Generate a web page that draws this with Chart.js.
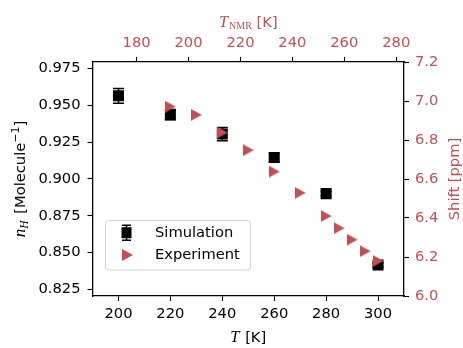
<!DOCTYPE html>
<html>
<head>
<meta charset="utf-8">
<script src="https://cdn.jsdelivr.net/npm/chart.js@4/dist/chart.umd.min.js"></script>
<style>
html,body{margin:0;padding:0;background:#fff;}
#c{display:block;}
</style>
</head>
<body>
<canvas id="c" width="463" height="348"></canvas>
<script>
// ---- data ----
const simT = [200, 220, 240, 260, 280, 300];
const simN = [0.9565, 0.9437, 0.9305, 0.9145, 0.8900, 0.8415];
const simErr = [0.0050, 0.0035, 0.0045, 0.0030, 0.0015, 0.0015];
const expT = [193, 203, 213, 223, 233, 243, 253, 258, 263, 268, 273];
const expShift = [6.971, 6.929, 6.838, 6.748, 6.638, 6.529, 6.410, 6.348, 6.289, 6.230, 6.180];
const xTicks = [200, 220, 240, 260, 280, 300];
const xTickLabels = ['200', '220', '240', '260', '280', '300'];
const x2Ticks = [180, 200, 220, 240, 260, 280];
const x2TickLabels = ['180', '200', '220', '240', '260', '280'];
const yTicks = [0.825, 0.850, 0.875, 0.900, 0.925, 0.950, 0.975];
const yTickLabels = ['0.825', '0.850', '0.875', '0.900', '0.925', '0.950', '0.975'];
const y2Ticks = [6.0, 6.2, 6.4, 6.6, 6.8, 7.0, 7.2];
const y2TickLabels = ['6.0', '6.2', '6.4', '6.6', '6.8', '7.0', '7.2'];

const RED = '#c44e52';
const FS = 14.7;
const SANS = 'DejaVu Sans';
const SERIF = 'Liberation Serif';

Chart.defaults.font.family = SANS;
Chart.defaults.font.size = FS;
Chart.defaults.color = '#000';

// triangle marker (pointing right)
const tri = document.createElement('canvas');
tri.width = 11; tri.height = 12;
(function(){
  const t = tri.getContext('2d');
  t.fillStyle = RED;
  t.beginPath(); t.moveTo(0,0); t.lineTo(11,6); t.lineTo(0,12); t.closePath(); t.fill();
})();

function setTicks(vals){
  return function(scale){ scale.ticks = vals.map(v => ({value: v})); };
}

const errorBars = {
  id: 'errorBars',
  beforeDatasetsDraw(chart){
    const ctx = chart.ctx, xs = chart.scales.x, ys = chart.scales.y;
    ctx.save();
    ctx.strokeStyle = '#000'; ctx.lineWidth = 1.5;
    for (let i = 0; i < simT.length; i++){
      const px = xs.getPixelForValue(simT[i]);
      const p1 = ys.getPixelForValue(simN[i] + simErr[i]);
      const p2 = ys.getPixelForValue(simN[i] - simErr[i]);
      ctx.beginPath();
      ctx.moveTo(px, p1); ctx.lineTo(px, p2);
      ctx.moveTo(px - 5.5, p1); ctx.lineTo(px + 5.5, p1);
      ctx.moveTo(px - 5.5, p2); ctx.lineTo(px + 5.5, p2);
      ctx.stroke();
    }
    ctx.restore();
  }
};

function drawRich(ctx, segs, cx, cy, rot){
  ctx.save();
  ctx.translate(cx, cy);
  ctx.rotate(rot);
  ctx.textBaseline = 'alphabetic';
  ctx.textAlign = 'left';
  let total = 0;
  segs.forEach(s => { ctx.font = s.font; s.w = ctx.measureText(s.text).width + (s.gap || 0); total += s.w; });
  let x = -total / 2;
  segs.forEach(s => {
    ctx.font = s.font; ctx.fillStyle = s.color;
    ctx.fillText(s.text, x, s.dy || 0);
    x += s.w;
  });
  ctx.restore();
}

const titles = {
  id: 'titles',
  afterDraw(chart){
    const ctx = chart.ctx;
    const ca = chart.chartArea;
    const cx = (ca.left + ca.right) / 2;
    const cy = (ca.top + ca.bottom) / 2;
    // top title
    drawRich(ctx, [
      {text: 'T', font: 'italic 16.5px ' + SERIF, color: RED, gap: 1},
      {text: 'NMR', font: '10px ' + SERIF, color: RED, dy: 2},
      {text: ' [K]', font: FS + 'px ' + SANS, color: RED}
    ], cx, 27.3, 0);
    // bottom title
    drawRich(ctx, [
      {text: 'T', font: 'italic 16.5px ' + SERIF, color: '#000', gap: 1},
      {text: ' [K]', font: FS + 'px ' + SANS, color: '#000'}
    ], cx, 341.5, 0);
    // left title
    drawRich(ctx, [
      {text: 'n', font: 'italic 17px ' + SERIF, color: '#000'},
      {text: 'H', font: 'italic 11.5px ' + SERIF, color: '#000', dy: 3, gap: 2},
      {text: ' [Molecule', font: FS + 'px ' + SANS, color: '#000'},
      {text: '\u22121', font: '11px ' + SANS, color: '#000', dy: -6},
      {text: ']', font: FS + 'px ' + SANS, color: '#000'}
    ], 24.5, cy, -Math.PI / 2);
    // right title
    drawRich(ctx, [
      {text: 'Shift [ppm]', font: FS + 'px ' + SANS, color: RED}
    ], 458.5, cy, -Math.PI / 2);
  }
};

function roundRect(ctx, x, y, w, h, r){
  ctx.beginPath();
  ctx.moveTo(x + r, y);
  ctx.lineTo(x + w - r, y); ctx.quadraticCurveTo(x + w, y, x + w, y + r);
  ctx.lineTo(x + w, y + h - r); ctx.quadraticCurveTo(x + w, y + h, x + w - r, y + h);
  ctx.lineTo(x + r, y + h); ctx.quadraticCurveTo(x, y + h, x, y + h - r);
  ctx.lineTo(x, y + r); ctx.quadraticCurveTo(x, y, x + r, y);
  ctx.closePath();
}

const legendBox = {
  id: 'legendBox',
  afterDraw(chart){
    const ctx = chart.ctx;
    ctx.save();
    roundRect(ctx, 105.5, 220.5, 145, 49.5, 3);
    ctx.fillStyle = 'rgba(255,255,255,0.8)'; ctx.fill();
    ctx.strokeStyle = '#d4d4d4'; ctx.lineWidth = 1; ctx.stroke();
    // simulation marker
    const mx = 126.5, my1 = 232.7, my2 = 255;
    ctx.fillStyle = '#000';
    ctx.fillRect(mx - 5, my1 - 5.5, 10, 11);
    ctx.strokeStyle = '#000'; ctx.lineWidth = 1.5;
    ctx.beginPath();
    ctx.moveTo(mx, my1 - 7.5); ctx.lineTo(mx, my1 + 7.5);
    ctx.moveTo(mx - 4.5, my1 - 7.5); ctx.lineTo(mx + 4.5, my1 - 7.5);
    ctx.moveTo(mx - 4.5, my1 + 7.5); ctx.lineTo(mx + 4.5, my1 + 7.5);
    ctx.stroke();
    // experiment marker
    ctx.drawImage(tri, 122, my2 - 6);
    ctx.fillStyle = '#000';
    ctx.font = FS + 'px ' + SANS;
    ctx.textBaseline = 'middle'; ctx.textAlign = 'left';
    ctx.fillText(chart.data.datasets[1].label, 155, my1);
    ctx.fillText(chart.data.datasets[0].label, 155, my2);
    ctx.restore();
  }
};

const gridCfg = {display: true, drawOnChartArea: false, drawTicks: true, tickLength: 5, tickWidth: 1.1, color: '#000'};
const borderCfg = {display: true, color: '#000', width: 1.3};

new Chart(document.getElementById('c'), {
  type: 'scatter',
  data: {
    datasets: [
      {
        label: 'Experiment',
        data: expT.map((t, i) => ({x: t, y: expShift[i]})),
        xAxisID: 'x2', yAxisID: 'y2',
        pointStyle: tri, pointRadius: 6, pointHoverRadius: 6,
        backgroundColor: RED, borderWidth: 0,
        order: 0
      },
      {
        label: 'Simulation',
        data: simT.map((t, i) => ({x: t, y: simN[i]})),
        xAxisID: 'x', yAxisID: 'y',
        pointStyle: 'rect', pointRadius: 7.8, pointHoverRadius: 7.8,
        backgroundColor: '#000', borderColor: '#000', borderWidth: 0,
        order: 1
      }
    ]
  },
  options: {
    responsive: false,
    animation: false,
    devicePixelRatio: 1,
    events: [],
    layout: {padding: 0},
    plugins: {legend: {display: false}, tooltip: {enabled: false}, title: {display: false}},
    scales: {
      x: {
        type: 'linear', position: 'bottom', min: 190, max: 310,
        afterBuildTicks: setTicks(xTicks),
        afterFit(s){ s.height = 52; },
        ticks: {padding: 4, maxRotation: 0, color: '#000', callback: (v, i) => xTickLabels[i]},
        grid: gridCfg, border: borderCfg
      },
      x2: {
        type: 'linear', position: 'top', min: 163, max: 283,
        afterBuildTicks: setTicks(x2Ticks),
        afterFit(s){ s.height = 62; },
        ticks: {padding: 5, maxRotation: 0, color: RED, callback: (v, i) => x2TickLabels[i]},
        grid: gridCfg, border: borderCfg
      },
      y: {
        type: 'linear', position: 'left', min: 0.8204, max: 0.9795,
        afterBuildTicks: setTicks(yTicks),
        afterFit(s){ s.width = 92.5; },
        ticks: {padding: 7, color: '#000', callback: (v, i) => yTickLabels[i]},
        grid: gridCfg, border: borderCfg
      },
      y2: {
        type: 'linear', position: 'right', min: 6.0, max: 7.2,
        afterBuildTicks: setTicks(y2Ticks),
        afterFit(s){ s.width = 59; },
        ticks: {padding: 6, color: RED, callback: (v, i) => y2TickLabels[i]},
        grid: gridCfg, border: borderCfg
      }
    }
  },
  plugins: [errorBars, titles, legendBox]
});
</script>
</body>
</html>
